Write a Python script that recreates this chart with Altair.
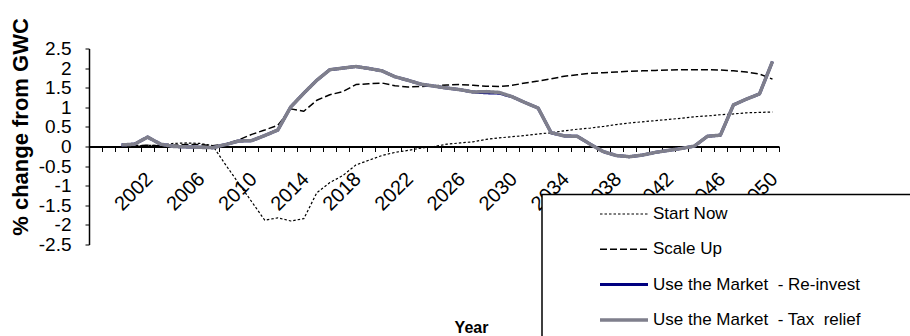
import altair as alt
import pandas as pd

# Model years (one category per year, first category 1998 left empty)
years = list(range(2000, 2051))

series = [
    "Start Now",
    "Scale Up",
    "Use the Market\u00a0 - Re-invest",
    "Use the Market\u00a0 - Tax\u00a0 relief",
]

start_now = [
    0.00, 0.01, 0.03, 0.03, 0.08, 0.09, 0.08, 0.02,
    -0.47, -0.94, -1.41, -1.88, -1.82, -1.90, -1.84, -1.18, -0.92, -0.74,
    -0.47, -0.35, -0.23, -0.15, -0.10, -0.04, 0.00, 0.06, 0.09, 0.12,
    0.18, 0.22, 0.25, 0.28, 0.32, 0.35, 0.40, 0.44, 0.47, 0.51,
    0.56, 0.60, 0.63, 0.66, 0.69, 0.72, 0.76, 0.78, 0.81, 0.83,
    0.86, 0.87, 0.88,
]
scale_up = [
    0.00, 0.02, 0.03, 0.02, 0.03, 0.05, 0.05, 0.02,
    0.06, 0.17, 0.31, 0.42, 0.54, 0.96, 0.90, 1.18, 1.32, 1.40,
    1.58, 1.60, 1.62, 1.55, 1.52, 1.53, 1.55, 1.57, 1.58, 1.56,
    1.54, 1.53, 1.56, 1.62, 1.67, 1.73, 1.79, 1.83, 1.87, 1.88,
    1.90, 1.92, 1.93, 1.94, 1.95, 1.96, 1.96, 1.96, 1.95, 1.93,
    1.90, 1.85, 1.72,
]
reinvest = [
    0.04, 0.06, 0.24, 0.06, 0.00, -0.01, -0.02, -0.03,
    0.05, 0.14, 0.15, 0.28, 0.42, 1.01, 1.36, 1.69, 1.96, 2.00,
    2.04, 1.99, 1.93, 1.78, 1.69, 1.59, 1.54, 1.49, 1.45, 1.39,
    1.37, 1.36, 1.27, 1.12, 0.98, 0.35, 0.27, 0.26, 0.06, -0.13,
    -0.23, -0.26, -0.22, -0.15, -0.10, -0.05, 0.01, 0.26, 0.29, 1.06,
    1.21, 1.34, 2.17,
]
tax_relief = [
    0.04, 0.06, 0.24, 0.06, 0.00, -0.01, -0.02, -0.03,
    0.05, 0.14, 0.15, 0.28, 0.42, 1.01, 1.36, 1.69, 1.96, 2.00,
    2.04, 1.99, 1.93, 1.78, 1.69, 1.59, 1.54, 1.49, 1.45, 1.39,
    1.40, 1.38, 1.27, 1.12, 0.98, 0.35, 0.27, 0.26, 0.06, -0.13,
    -0.23, -0.26, -0.22, -0.15, -0.10, -0.05, 0.01, 0.26, 0.29, 1.06,
    1.21, 1.34, 2.17,
]

y_ticks = [2.5, 2, 1.5, 1, 0.5, 0, -0.5, -1, -1.5, -2, -2.5]
x_label_years = list(range(2002, 2051, 4))
category_edges = [y + 0.5 for y in range(1997, 2051)]

# Line styles per series
colors = ["#000000", "#000000", "#000080", "#7f7f8c"]
dashes = [[2.5, 2], [7, 3], [1, 0], [1, 0]]
widths = [1.2, 1.5, 3, 3.5]

FONT = "Liberation Sans"

long_df = pd.concat(
    [
        pd.DataFrame({"year": years, "value": vals, "series": name})
        for name, vals in zip(series, [start_now, scale_up, reinvest, tax_relief])
    ],
    ignore_index=True,
)

label_list = "[" + ",".join(str(v) for v in x_label_years) + "]"

x_enc = alt.X(
    "year:Q",
    scale=alt.Scale(domain=[1997.5, 2050.5], nice=False, zero=False),
    axis=alt.Axis(
        values=category_edges,
        labelExpr=f"indexof({label_list}, datum.value + 0.5) >= 0 ? '' + (datum.value + 0.5) : ''",
        offset=-98,
        grid=False,
        domainColor="black",
        domainWidth=2,
        tickColor="black",
        tickWidth=1,
        tickSize=5,
        labelAngle=-45,
        labelAlign="right",
        labelBaseline="top",
        labelOffset=1,
        labelPadding=17,
        labelFont=FONT,
        labelFontSize=20,
        labelColor="black",
        labelOverlap=False,
        labelFlush=False,
        labelBound=False,
        title="Year",
        titleFont=FONT,
        titleFontSize=16,
        titleFontWeight="bold",
        titleColor="black",
        titleX=382,
        titleY=186,
        titleAlign="center",
        titleBaseline="alphabetic",
    ),
)

y_enc = alt.Y(
    "value:Q",
    scale=alt.Scale(domain=[-2.5, 2.5], nice=False, zero=False),
    axis=alt.Axis(
        values=y_ticks,
        labelExpr="'' + datum.value",
        grid=False,
        domainColor="black",
        domainWidth=1.5,
        tickColor="black",
        tickWidth=1,
        tickSize=4,
        labelPadding=14,
        labelFont=FONT,
        labelFontSize=19,
        labelColor="black",
        labelOverlap=False,
        labelFlush=False,
        labelBound=False,
        title="% change from GWC",
        titleFont=FONT,
        titleFontSize=22,
        titleFontWeight="bold",
        titleColor="black",
        titleX=-61.5,
        titleY=78,
        titleAngle=-90,
        titleAlign="center",
        titleBaseline="alphabetic",
    ),
)

base = alt.Chart(long_df).encode(x=x_enc, y=y_enc)

# One line layer per series, drawn in legend order (tax relief on top)
line_layers = [
    base.mark_line(
        color=c, strokeDash=d, strokeWidth=w, strokeCap="butt", strokeJoin="round"
    ).transform_filter(alt.datum.series == name)
    for name, c, d, w in zip(series, colors, dashes, widths)
]

# Legend box, symbols and labels
legend_df = pd.DataFrame({"series": series, "idx": list(range(len(series)))})

legend_box = alt.Chart(pd.DataFrame({"k": [0]})).mark_rect(
    fill="white", stroke="black", strokeWidth=1.5
).encode(
    x=alt.value(453), x2=alt.value(840), y=alt.value(146), y2=alt.value(300)
)

legend_base = alt.Chart(legend_df).transform_calculate(
    ly="165.5 + datum.idx * 35.3"
)

legend_rules = [
    legend_base.mark_rule(color=c, strokeDash=d, strokeWidth=w, strokeCap="butt")
    .encode(
        x=alt.value(511),
        x2=alt.value(559),
        y=alt.Y("ly:Q", scale=None, axis=None),
    )
    .transform_filter(alt.datum.series == name)
    for name, c, d, w in zip(series, colors, dashes, widths)
]

legend_text = legend_base.mark_text(
    align="left", baseline="middle", font=FONT, fontSize=17, color="black"
).encode(
    x=alt.value(564),
    y=alt.Y("ly:Q", scale=None, axis=None),
    text="series:N",
)

chart = (
    alt.layer(*line_layers, legend_box, *legend_rules, legend_text)
    .properties(
        width=690,
        height=196,
        autosize=alt.AutoSizeParams(type="none"),
        padding={"left": 89, "top": 48.5, "right": 131, "bottom": 91.5},
        background="white",
    )
    .configure_view(stroke=None)
)

chart.save("out.html", embed_options={"renderer": "svg", "actions": False})
